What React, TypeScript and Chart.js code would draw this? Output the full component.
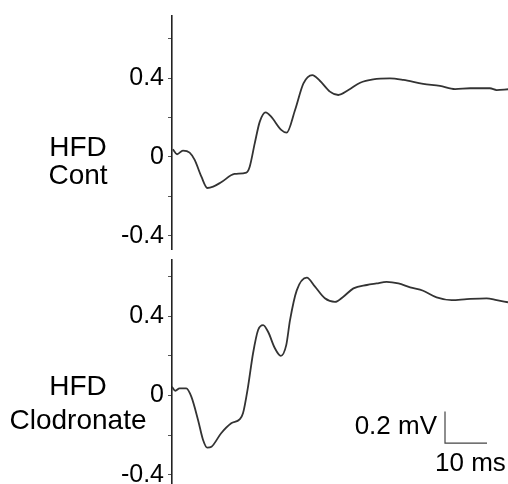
import { useEffect, useRef } from 'react';
import { Chart, registerables } from 'chart.js';

Chart.register(...registerables);

// Time in ms, amplitude in mV
const topTimes = [0.2, 1.2, 2.6, 4.2, 5.4, 7.0, 8.4, 9.8, 11.7, 14.9, 17.7, 18.5, 19.7, 20.9, 22.3, 23.6, 26.0, 27.3, 29.3, 31.3, 33.4, 35.2, 37.6, 39.6, 42.0, 44.8, 47.9, 51.9, 55.1, 59.8, 63.8, 67.4, 71.0, 75.7, 77.3, 80.0];
const topValues = [0.039, 0.014, 0.032, 0.022, -0.015, -0.1, -0.157, -0.15, -0.128, -0.086, -0.079, -0.049, 0.069, 0.179, 0.226, 0.204, 0.137, 0.123, 0.238, 0.373, 0.415, 0.386, 0.331, 0.314, 0.339, 0.376, 0.393, 0.398, 0.39, 0.37, 0.36, 0.344, 0.348, 0.348, 0.339, 0.343];

const bottomTimes = [0.0, 0.8, 1.8, 3.4, 4.6, 6.2, 7.4, 8.4, 9.4, 11.7, 14.1, 16.1, 16.9, 18.1, 19.3, 20.5, 21.7, 22.9, 24.5, 25.9, 27.2, 28.1, 29.7, 32.1, 34.0, 36.4, 38.8, 40.8, 43.2, 46.4, 48.7, 51.1, 53.9, 56.7, 59.8, 63.0, 66.6, 70.2, 74.9, 77.3, 80.0];
const bottomValues = [0.044, 0.024, 0.036, 0.036, -0.006, -0.123, -0.224, -0.263, -0.258, -0.19, -0.14, -0.12, -0.09, 0.044, 0.213, 0.33, 0.355, 0.32, 0.238, 0.2, 0.254, 0.38, 0.53, 0.594, 0.55, 0.49, 0.472, 0.498, 0.54, 0.557, 0.565, 0.573, 0.565, 0.545, 0.528, 0.495, 0.481, 0.486, 0.49, 0.481, 0.47];

// Scale bar (drawn in data units of the bottom panel)
const scaleBarTimes = [65, 65, 75];
const scaleBarValues = [-0.08, -0.24, -0.24];
const scaleBarLabels = ['0.2 mV', '10 ms'];

const yTickStep = 0.2;
const yLabelledTicks = [-0.4, 0, 0.4];
const topLabels = ['HFD', 'Cont'];
const bottomLabels = ['HFD', 'Clodronate'];

const FONT = '"Liberation Sans", Arial, Helvetica, sans-serif';
const INK = '#000';
const TRACE = '#333';

function toPoints(xs: number[], ys: number[]) {
  return xs.map((x, i) => ({ x, y: ys[i] }));
}

function makeChart(
  canvas: HTMLCanvasElement,
  times: number[],
  values: number[],
  yMin: number,
  yMax: number,
  padTop: number,
  groupLabels: string[],
  labelYs: number[],
  withScaleBar: boolean
) {
  const datasets: any[] = [
    {
      data: toPoints(times, values),
      borderColor: TRACE,
      borderWidth: 1.8,
      pointRadius: 0,
      cubicInterpolationMode: 'monotone',
      fill: false,
    },
  ];
  if (withScaleBar) {
    datasets.push({
      data: toPoints(scaleBarTimes, scaleBarValues),
      borderColor: '#444',
      borderWidth: 1.2,
      pointRadius: 0,
      tension: 0,
      fill: false,
    });
  }

  const textPlugin = {
    id: 'panelText',
    afterDraw(chart: any) {
      const ctx = chart.ctx;
      const ys = chart.scales.y;
      const xs = chart.scales.x;
      ctx.save();
      ctx.fillStyle = INK;
      ctx.font = `28px ${FONT}`;
      ctx.textAlign = 'center';
      ctx.textBaseline = 'middle';
      groupLabels.forEach((t, i) => {
        ctx.fillText(t, 78, ys.getPixelForValue(0) + labelYs[i]);
      });
      if (withScaleBar) {
        ctx.font = `26px ${FONT}`;
        const bx = xs.getPixelForValue(scaleBarTimes[0]);
        const byMid = ys.getPixelForValue((scaleBarValues[0] + scaleBarValues[1]) / 2);
        const byBot = ys.getPixelForValue(scaleBarValues[1]);
        ctx.textAlign = 'right';
        ctx.fillText(scaleBarLabels[0], bx - 8, byMid);
        ctx.textAlign = 'left';
        ctx.fillText(scaleBarLabels[1], bx - 10, byBot + 21);
      }
      ctx.restore();
    },
  };

  return new Chart(canvas, {
    type: 'line',
    data: { datasets },
    plugins: [textPlugin],
    options: {
      animation: false,
      responsive: false,
      layout: { padding: { top: padTop, left: 0, right: 0, bottom: 0 } },
      plugins: { legend: { display: false }, tooltip: { enabled: false } },
      scales: {
        x: { type: 'linear', min: 0, max: 80, display: false },
        y: {
          type: 'linear',
          min: yMin,
          max: yMax,
          afterFit: (scale: any) => {
            scale.width = 172;
            scale.paddingTop = 0;
            scale.paddingBottom = 0;
          },
          border: { display: true, color: '#222', width: 1.6 },
          grid: {
            drawOnChartArea: false,
            drawTicks: true,
            tickLength: 4,
            color: '#555',
            lineWidth: 1,
          },
          ticks: {
            stepSize: yTickStep,
            includeBounds: false,
            padding: 4,
            color: INK,
            font: { family: FONT, size: 25 },
            callback: (v: any) => {
              const r = Math.round(Number(v) * 10) / 10;
              if (!yLabelledTicks.includes(r)) return '';
              return r === 0 ? '0' : r.toFixed(1);
            },
          },
        },
      },
    },
  });
}

export default function App() {
  const topRef = useRef<HTMLCanvasElement>(null);
  const botRef = useRef<HTMLCanvasElement>(null);

  useEffect(() => {
    const c1 = makeChart(topRef.current!, topTimes, topValues, -0.471, 0.714, 16, topLabels, [-9, 19], false);
    const c2 = makeChart(botRef.current!, bottomTimes, bottomValues, -0.446, 0.683, 10, bottomLabels, [-8, 26], true);
    return () => {
      c1.destroy();
      c2.destroy();
    };
  }, []);

  return (
    <div style={{ position: 'absolute', left: 0, top: 0, width: 508, height: 484, background: '#fff' }}>
      <canvas ref={topRef} width={508} height={250} style={{ position: 'absolute', left: 0, top: 0, display: 'block' }} />
      <canvas ref={botRef} width={508} height={234} style={{ position: 'absolute', left: 0, top: 250, display: 'block' }} />
    </div>
  );
}
